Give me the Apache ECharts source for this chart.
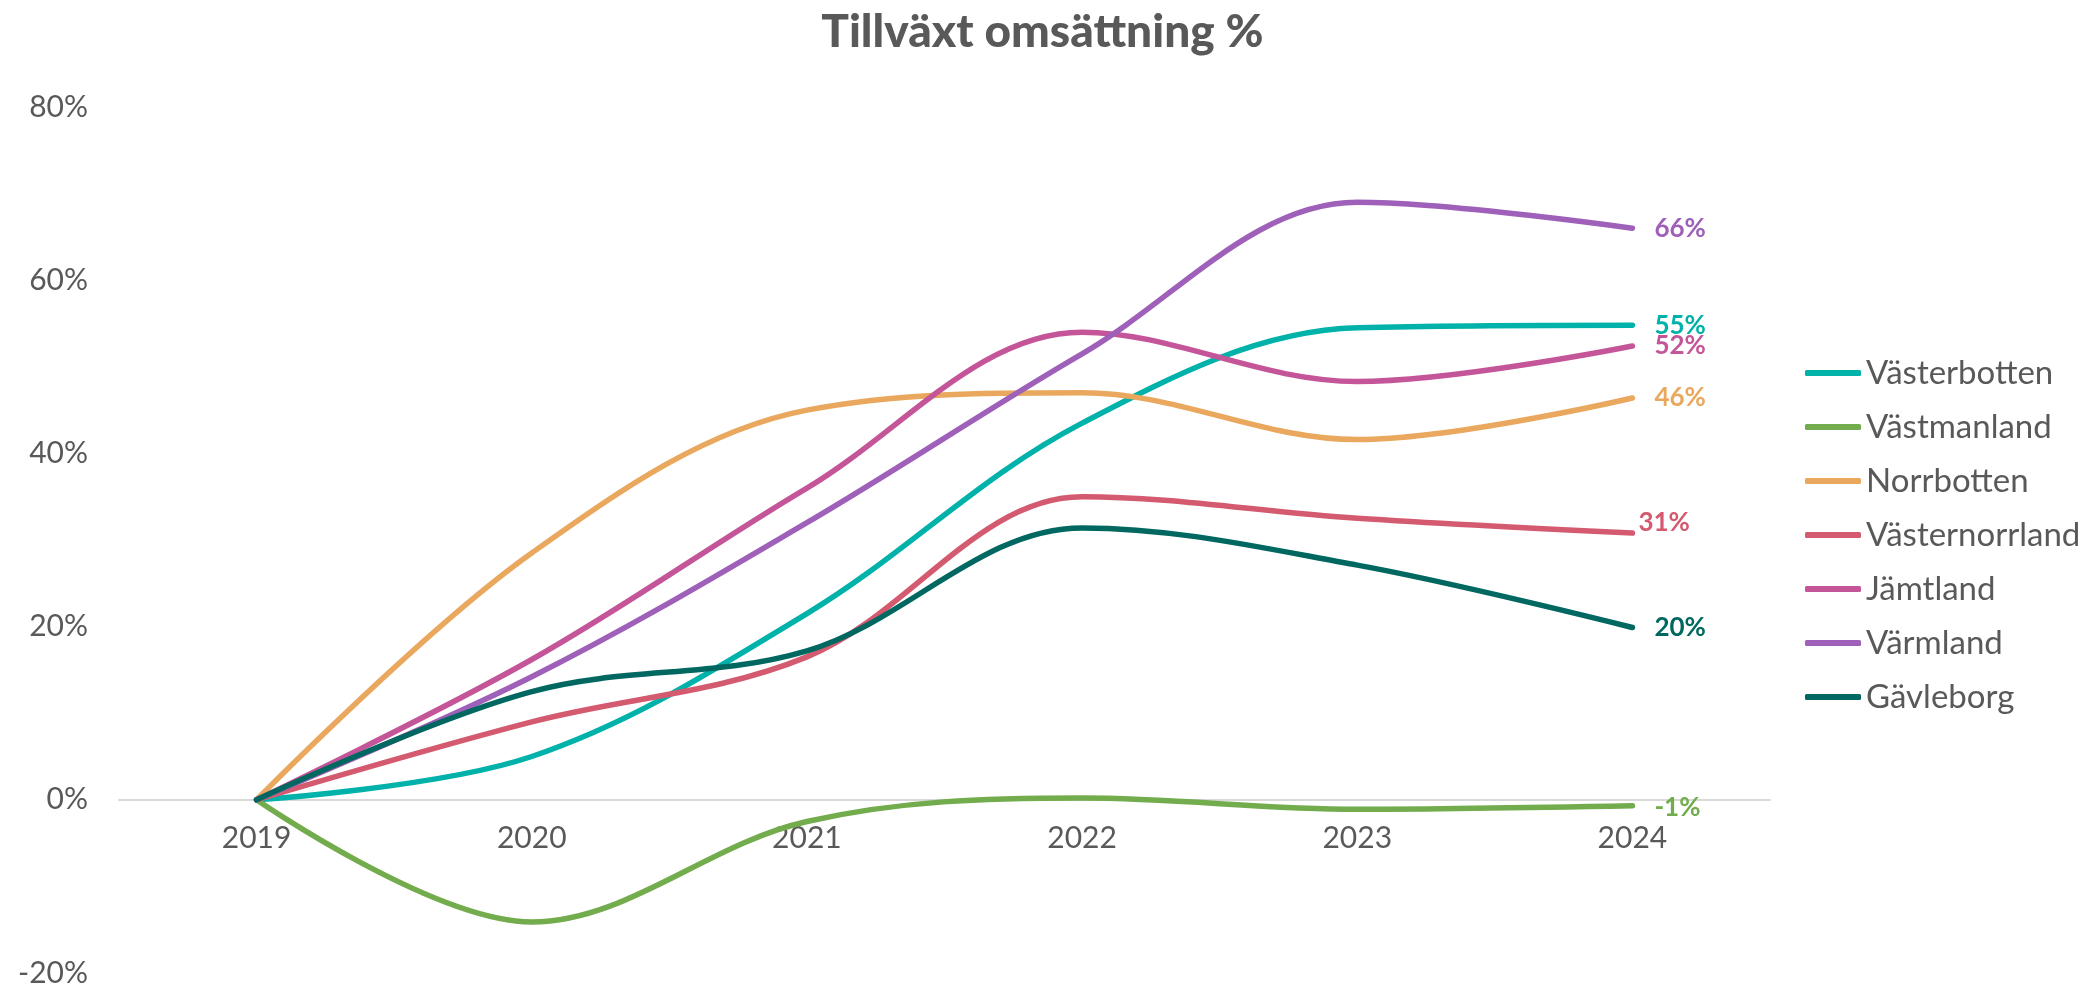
<!DOCTYPE html>
<html>
<head>
<meta charset="utf-8">
<script src="https://cdn.jsdelivr.net/npm/echarts@6/dist/echarts.min.js"></script>
<style>
html,body{margin:0;padding:0;background:#fff;}
#chart{width:2085px;height:988px;}
</style>
</head>
<body>
<div id="chart"></div>
<script>
const categories = ['2019', '2020', '2021', '2022', '2023', '2024'];
const vasterbotten   = [0, 5.0, 21.5, 43.5, 54.5, 54.8];
const vastmanland    = [0, -14.1, -2.5, 0.2, -1.1, -0.7];
const norrbotten     = [0, 28.5, 45.0, 47.0, 41.6, 46.4];
const vasternorrland = [0, 9.0, 16.5, 35.0, 32.5, 30.8];
const jamtland       = [0, 16.2, 36.0, 54.0, 48.3, 52.4];
const varmland       = [0, 14.2, 32.0, 51.5, 69.0, 66.0];
const gavleborg      = [0, 12.5, 17.2, 31.4, 27.1, 19.9];
const yTicks = [-20, 0, 20, 40, 60, 80];

const seriesDefs = [
  {name: 'Västerbotten', data: vasterbotten, color: '#00B2A9', offset: [0, 0]},
  {name: 'Västmanland', data: vastmanland, color: '#72AC4D', offset: [0, 2]},
  {name: 'Norrbotten', data: norrbotten, color: '#E9A85E', offset: [0, 0]},
  {name: 'Västernorrland', data: vasternorrland, color: '#D45A6F', offset: [-16, -10]},
  {name: 'Jämtland', data: jamtland, color: '#C45599', offset: [0, 0]},
  {name: 'Värmland', data: varmland, color: '#9E60B8', offset: [0, 0]},
  {name: 'Gävleborg', data: gavleborg, color: '#006860', offset: [0, 0]}
];

const FONT = 'Lato, "Noto Sans", sans-serif';
const GRID_TOP = 107, GRID_BOTTOM = 15, H = 988;
const yMin = yTicks[0], yMax = yTicks[yTicks.length - 1];
const gridH = H - GRID_TOP - GRID_BOTTOM;
const zeroOffset = -((0 - yMin) / (yMax - yMin)) * gridH;

const chart = echarts.init(document.getElementById('chart'));
chart.setOption({
  animation: false,
  backgroundColor: '#fff',
  title: {
    text: 'Tillväxt omsättning %',
    left: 'center',
    top: 4,
    textStyle: {fontFamily: FONT, fontSize: 46, fontWeight: 900, color: '#595959'}
  },
  legend: {
    orient: 'vertical',
    left: 1800,
    top: 351,
    itemWidth: 56,
    itemHeight: 6,
    itemGap: 20,
    icon: 'roundRect',
    textStyle: {fontFamily: FONT, fontSize: 33, color: '#595959', lineHeight: 34},
    data: seriesDefs.map(s => s.name)
  },
  grid: {left: 119, right: 315, top: GRID_TOP, bottom: GRID_BOTTOM, containLabel: false},
  xAxis: {
    type: 'category',
    data: categories,
    boundaryGap: true,
    offset: zeroOffset,
    axisLine: {onZero: false, lineStyle: {color: '#D9D9D9', width: 2}},
    axisTick: {show: false},
    axisLabel: {fontFamily: FONT, fontSize: 30, color: '#595959', margin: 24}
  },
  yAxis: {
    type: 'value',
    min: yMin,
    max: yMax,
    interval: 20,
    splitLine: {show: false},
    axisLine: {show: false},
    axisTick: {show: false},
    axisLabel: {fontFamily: FONT, fontSize: 30, color: '#595959', margin: 31, formatter: '{value}%'}
  },
  series: seriesDefs.map(s => ({
    name: s.name,
    type: 'line',
    data: s.data,
    smooth: 0.35,
    symbol: 'none',
    color: s.color,
    lineStyle: {width: 5.5, color: s.color, cap: 'round', join: 'round'},
    endLabel: {
      show: true,
      distance: 22,
      offset: s.offset,
      formatter: p => Math.round(p.value) + '%',
      fontFamily: FONT,
      fontSize: 26,
      fontWeight: 'bold',
      color: s.color
    }
  }))
});
</script>
</body>
</html>
